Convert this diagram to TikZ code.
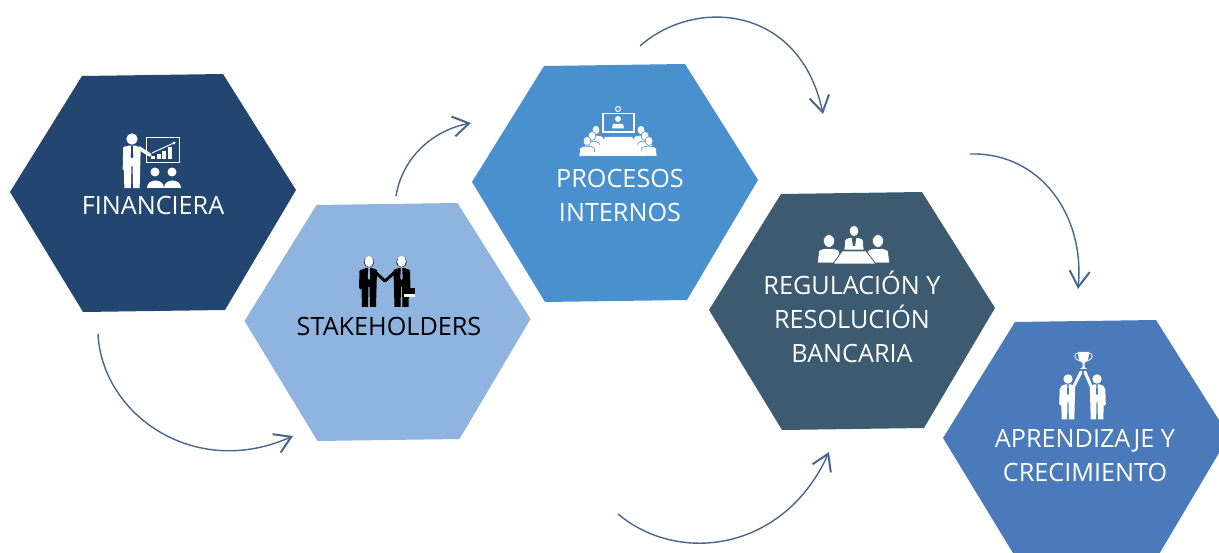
\documentclass[tikz,border=0pt]{standalone}
\usepackage{fontspec}
\setmainfont{Open Sans}
\usepackage{xcolor}
\usetikzlibrary{arrows.meta}

\definecolor{hexnavy}{HTML}{234670}
\definecolor{hexpale}{HTML}{8FB4E0}
\definecolor{hexblue}{HTML}{4A90CE}
\definecolor{hexslate}{HTML}{3C5A70}
\definecolor{hexmid}{HTML}{4A7ABA}
\definecolor{swoosh}{HTML}{46668F}

\tikzset{
    label/.style={font=\fontsize{25.2}{34}\selectfont, align=center, text=white, inner sep=0pt},
    flow/.style={swoosh, line width=1.4pt, -{Straight Barb[length=16pt, width=20pt, line width=2pt]}},
    limb/.style={line width=3.6pt, line cap=round, line join=round},
    % standing man: head at the origin
    pics/man/.style 2 args={code={
        \fill[#1] (0,0) circle (5.2);
        \fill[#1] (-3,6) -- (3,6) -- (8,8) -- (7,45) -- (1,45) -- (0.5,25) -- (-0.5,25) -- (-1,45) -- (-7,45) -- (-8,8) -- cycle;
        \fill[#2] (-1,6) -- (1,6) -- (0.7,8) -- (1.2,16) -- (0,18) -- (-1.2,16) -- (-0.7,8) -- cycle;
    }},
    % seated man: head at the origin
    pics/bust/.style 2 args={code={
        \fill[#1, draw=#2, line width=0.6pt] (-10,19) -- (-9,9) .. controls (-8,7) and (-4,6.5) .. (0,6.5) .. controls (4,6.5) and (8,7) .. (9,9) -- (10,19) -- cycle;
        \fill[#1, draw=#2, line width=0.6pt] (0,0) ellipse (4.8 and 5.6);
    }}
}

\begin{document}
\begin{tikzpicture}[x=1pt, y=-1pt]
    \useasboundingbox (0,0) rectangle (1219,553);
    \clip (0,0) rectangle (1219,553);

    % Hexagons
    \foreach \cx/\cy/\c in {153/193/hexnavy, 387.5/322/hexpale, 615/183/hexblue, 852/311/hexslate, 1086/439/hexmid} {
        \fill[\c, shift={(\cx,\cy)}] (-143,-1) -- (-71,-117) -- (70,-119) -- (143,-3) -- (72,117) -- (-70,119) -- cycle;
    }

    % Labels
    \node[label] (financiera) at (153,206) {FINANCIERA};
    \node[label, text=black] (stakeholders) at (389,326) {STAKEHOLDERS};
    \node[label] (procesos) at (620,195) {PROCESOS\\INTERNOS};
    \node[label] (regulacion) at (852,317) {REGULACIÓN Y\\RESOLUCIÓN\\BANCARIA};
    \node[label] (aprendizaje) at (1085,456) {APRENDIZAJE Y\\CRECIMIENTO};

    % Arrows
    \coordinate (a1) at (98,334);
    \coordinate (a2) at (293,436);
    \draw[flow] (a1) .. controls (102,415) and (195,480) .. (a2);
    \coordinate (b1) at (396,196);
    \coordinate (b2) at (471,123);
    \draw[flow] (b1) .. controls (403,155) and (435,130) .. (b2);
    \coordinate (c1) at (640,46);
    \coordinate (c2) at (823,114);
    \draw[flow] (c1) .. controls (695,-3) and (800,5) .. (c2);
    \coordinate (d1) at (970,154);
    \coordinate (d2) at (1078,289);
    \draw[flow] (d1) .. controls (1040,152) and (1085,215) .. (d2);
    \coordinate (e1) at (618,514);
    \coordinate (e2) at (829,452);
    \draw[flow] (e1) .. controls (680,566) and (785,550) .. (e2);

    % Financiera icon
    \pic[scale=1.09] at (132,139) {man={white}{hexnavy}};
    \draw[limb, white] (125,148) -- (124.5,169);
    \draw[limb, white] (139,148) -- (150,155);
    \draw[white, line width=1.6pt] (146.5,137.5) rectangle (179.5,162.5);
    \foreach \x/\h in {153/3, 158.5/5, 164/8, 170/12} {
        \fill[white] (\x-2,159.5) rectangle (\x+2,159.5-\h);
    }
    \draw[white, line width=1pt, -{Latex[length=3pt, width=3.5pt]}] (152,153) -- (176,142);
    \foreach \x in {155,172} {
        \fill[white] (\x,172) circle (4.5);
        \fill[white] (\x-8.5,188) .. controls (\x-8.5,178) and (\x+8.5,178) .. (\x+8.5,188) -- cycle;
    }

    % Stakeholders icon
    \pic at (369,262) {man={black}{hexpale}};
    \pic at (401.5,262) {man={black}{hexpale}};
    \fill[white] (369,261.5) ellipse (4.5 and 5.5);
    \fill[white] (401.5,261.5) ellipse (4.5 and 5.5);
    \draw[limb, black, line width=3pt] (361,271) -- (360.5,288);
    \draw[limb, black, line width=3pt] (375,272) -- (385,281) -- (395,272);
    \draw[limb, black, line width=3pt] (408.5,271) -- (409,288);
    \fill[black] (404,288) rectangle (415,294);
    \fill[white] (404,294) rectangle (415,297);

    % Procesos icon
    \draw[white, line width=1.6pt] (603,113.5) rectangle (634,132);
    \draw[white, line width=1pt] (618,109) circle (2.5);
    \fill[white] (618,119) circle (3);
    \fill[white] (612,128.5) -- (613,124) -- (623,124) -- (624,128.5) -- cycle;
    \foreach \x/\y in {596/130, 592/136, 587/141} {
        \pic[scale=0.8] at (\x,\y) {bust={white}{hexblue}};
    }
    \foreach \x/\y in {641/130, 645/136, 649/141} {
        \pic[scale=0.8] at (\x,\y) {bust={white}{hexblue}};
    }
    \fill[white] (605,137) -- (632,137) -- (645,156) -- (592,156) -- cycle;

    % Regulacion icon
    \pic at (854,231) {bust={white}{hexslate}};
    \pic[scale=1.15] at (829,241) {bust={white}{hexslate}};
    \pic[scale=1.15] at (878,241) {bust={white}{hexslate}};
    \fill[hexslate] (851.5,237) -- (856.5,237) -- (855,246) -- (853,246) -- cycle;
    \fill[white, draw=hexslate, line width=0.8pt] (842,251) -- (866,251) -- (876,264) -- (833,264) -- cycle;

    % Aprendizaje icon
    \pic[scale=0.9] at (1068,379) {man={white}{hexmid}};
    \pic[scale=0.9] at (1097,379) {man={white}{hexmid}};
    \draw[limb, white] (1061.5,389) -- (1061,404);
    \draw[limb, white] (1103.5,389) -- (1104,404);
    \draw[limb, white, line width=3pt] (1074,386) -- (1081,372);
    \draw[limb, white, line width=3pt] (1091,386) -- (1085,372);
    \fill[white] (1078,352) -- (1089,352) .. controls (1089,359) and (1087,362) .. (1084.5,363) -- (1084.5,367) -- (1087,369) -- (1080,369) -- (1082.5,367) -- (1082.5,363) .. controls (1080,362) and (1078,359) .. (1078,352) -- cycle;
    \draw[white, line width=0.8pt] (1078,353) .. controls (1073,353) and (1074,360) .. (1080,361);
    \draw[white, line width=0.8pt] (1089,353) .. controls (1094,353) and (1093,360) .. (1087,361);
\end{tikzpicture}
\end{document}
